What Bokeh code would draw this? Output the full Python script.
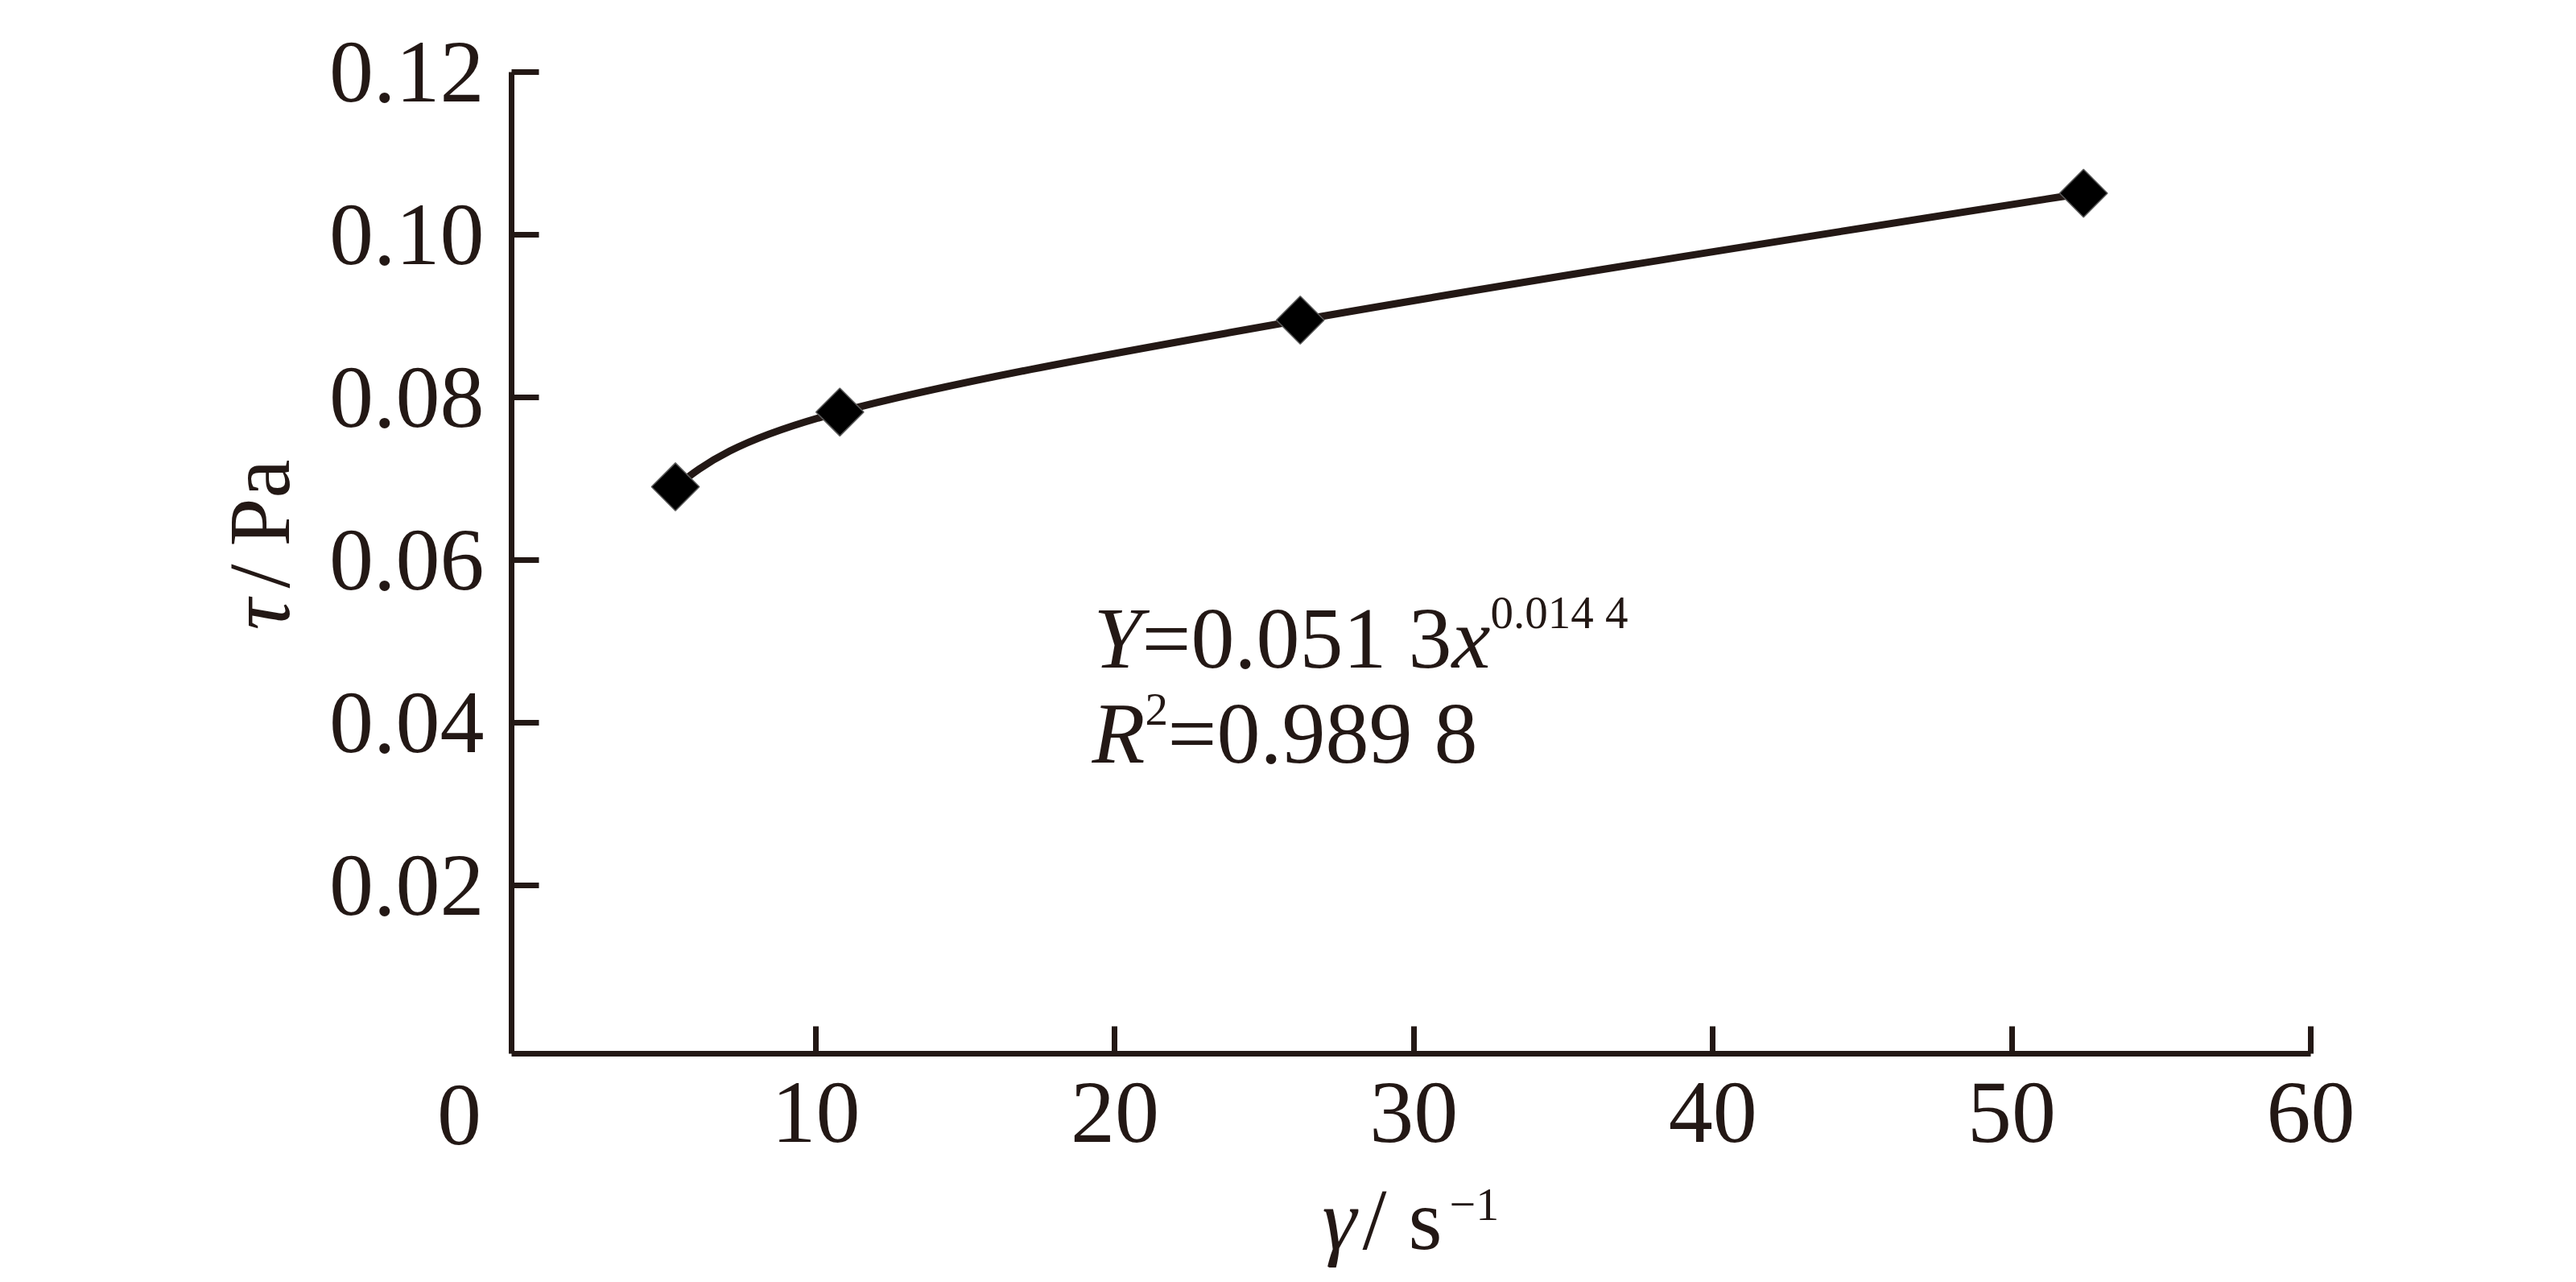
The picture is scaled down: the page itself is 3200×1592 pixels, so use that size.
import numpy as np
from bokeh.plotting import figure
from bokeh.models import Label, Range1d, FixedTicker, NumeralTickFormatter
from bokeh.embed import file_html
from bokeh.resources import INLINE

# ---- data ----
shear_rate = [5.3, 10.8, 26.2, 52.4]             # gamma, s^-1
shear_stress = [0.0690, 0.0782, 0.0895, 0.1051]  # tau, Pa
x_ticks = [10, 20, 30, 40, 50, 60]
y_ticks = [0.02, 0.04, 0.06, 0.08, 0.10, 0.12]
x_axis_bounds = (-0.18, 60)
y_axis_bounds = (-0.0007, 0.12)
eq_line1 = ["Y", "=0.051 3", "x", "0.014 4"]
eq_line2 = ["R", "2", "=0.989 8"]
x_label_parts = ["γ", "/", "s", "−1"]
y_label_parts = ["τ", "/", "Pa"]

INK = "#231815"
FONT = "Liberation Serif"

W, H = 3184, 1576
# plot area geometry (page pixels) of the reference
AX_LEFT, AX_RIGHT, AX_TOP, AX_BOTTOM = 643, 2878, 97, 1316
kx = (AX_RIGHT - AX_LEFT) / (x_axis_bounds[1] - x_axis_bounds[0])
ky = (AX_BOTTOM - AX_TOP) / (y_axis_bounds[1] - y_axis_bounds[0])
x_start = x_axis_bounds[0] - (AX_LEFT - 8) / kx
x_end = x_start + W / kx
y_end = y_axis_bounds[1] + (AX_TOP - 8) / ky
y_start = y_end - H / ky

p = figure(
    width=W, height=H, min_border=0,
    x_range=Range1d(x_start, x_end), y_range=Range1d(y_start, y_end),
    output_backend="svg", toolbar_location=None,
    background_fill_color="white", border_fill_color="white",
)
p.outline_line_color = None
p.grid.visible = False

xa, ya = p.xaxis[0], p.yaxis[0]
xa.fixed_location = y_axis_bounds[0]
ya.fixed_location = x_axis_bounds[0]
xa.bounds = x_axis_bounds
ya.bounds = y_axis_bounds
for ax in (xa, ya):
    ax.axis_line_color = INK
    ax.axis_line_width = 7
    ax.major_tick_line_color = INK
    ax.major_tick_line_width = 7
    ax.major_tick_in = 34
    ax.major_tick_out = 0
    ax.minor_tick_line_color = None
    ax.major_label_text_font = FONT
    ax.major_label_text_font_size = "110px"
    ax.major_label_text_color = INK

xa.ticker = FixedTicker(ticks=x_ticks)
ya.ticker = FixedTicker(ticks=y_ticks)
ya.formatter = NumeralTickFormatter(format="0.00")
xa.major_label_standoff = 36
ya.major_label_standoff = 34

# ---- smoothed line through the points (cubic Bezier, natural ends) ----
xs = np.array(shear_rate)
ys = np.array(shear_stress)
n = len(xs)
tx = np.zeros(n); ty = np.zeros(n)
tx[1:-1] = (xs[2:] - xs[:-2]) / 2.0
ty[1:-1] = (ys[2:] - ys[:-2]) / 2.0
cx0 = xs[:-1] + tx[:-1] / 3.0
cy0 = ys[:-1] + ty[:-1] / 3.0
cx1 = xs[1:] - tx[1:] / 3.0
cy1 = ys[1:] - ty[1:] / 3.0
# natural (zero curvature) end conditions
cx0[0] = (xs[0] + cx1[0]) / 2.0
cy0[0] = (ys[0] + cy1[0]) / 2.0
cx1[-1] = (xs[-1] + cx0[-1]) / 2.0
cy1[-1] = (ys[-1] + cy0[-1]) / 2.0
p.bezier(x0=xs[:-1], y0=ys[:-1], x1=xs[1:], y1=ys[1:],
         cx0=cx0, cy0=cy0, cx1=cx1, cy1=cy1, line_color=INK, line_width=9)

p.scatter(shear_rate, shear_stress, marker="square", angle=np.pi / 4, size=42,
          fill_color="#000000", line_color="#5a5a5a", line_width=1.5)

SHIFT = 0.28  # baseline compensation (fraction of font size)


def lab(text, X, Y, size=108, style="normal", rotated=False, align="left"):
    """Place text with its baseline-left at page pixel (X, Y)."""
    sx = X - 8
    sy = 1584 - Y
    if rotated:
        sx -= SHIFT * size
    else:
        sy += SHIFT * size
    p.add_layout(Label(x=sx, y=sy, x_units="screen", y_units="screen", text=text,
                       text_font=FONT, text_font_size=f"{size}px", text_font_style=style,
                       text_color=INK, text_align=align, text_baseline="alphabetic",
                       angle=np.pi / 2 if rotated else 0.0))


# equation
lab(eq_line1[0], 1366, 830, style="italic")
lab(eq_line1[1], 1426, 830)
lab(eq_line1[2], 1811, 830, style="italic")
lab(eq_line1[3], 1859, 784, size=57)
lab(eq_line2[0], 1364, 948, style="italic")
lab(eq_line2[1], 1430, 904, size=57)
lab(eq_line2[2], 1458, 948)

# x-axis origin label and title
lab("0", 578, 1423, size=110, align="center")
lab(x_label_parts[0], 1650, 1552, style="italic")
lab(x_label_parts[1], 1700, 1552)
lab(x_label_parts[2], 1757, 1552)
lab(x_label_parts[3], 1808, 1520, size=58)

# y-axis title (rotated, reading upward)
lab(y_label_parts[0], 360, 790, style="italic", rotated=True)
lab(y_label_parts[1], 360, 738, rotated=True)
lab(y_label_parts[2], 360, 686, rotated=True)

open("out.html", "w").write(file_html(p, INLINE))
